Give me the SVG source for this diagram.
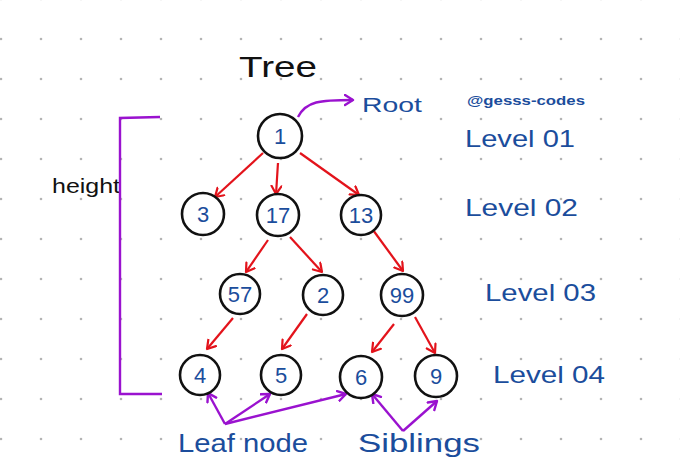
<svg xmlns="http://www.w3.org/2000/svg" width="680" height="475" viewBox="0 0 680 475">
<style>
.node circle{fill:#fff;stroke:#111;stroke-width:2.6}
.node text{font-family:"Liberation Sans",Arial,sans-serif;font-size:22px;fill:#1b4d9c;text-anchor:middle}
.red{stroke:#e3131b;stroke-width:2.2;fill:none;marker-end:url(#ahr)}
.pur{stroke:#9a12cf;stroke-width:2.4;fill:none}
.pa{marker-end:url(#ahp)}
.lbl{font-family:"Liberation Sans",Arial,sans-serif;fill:#1b4d9c}
.blk{font-family:"Liberation Sans",Arial,sans-serif;fill:#111}
</style>
<defs>
<pattern id="dots" patternUnits="userSpaceOnUse" x="-19" y="-21" width="40" height="40">
<circle cx="20" cy="20" r="1.3" fill="#b4b4b4"/>
</pattern>
<marker id="ahr" markerUnits="userSpaceOnUse" markerWidth="14" markerHeight="14" refX="9" refY="6" orient="auto">
<path d="M1,1 L9,6 L1,11" fill="none" stroke="#e3131b" stroke-width="2.2" stroke-linecap="round" stroke-linejoin="round"/>
</marker>
<marker id="ahp" markerUnits="userSpaceOnUse" markerWidth="14" markerHeight="14" refX="9" refY="6" orient="auto">
<path d="M1,1 L9,6 L1,11" fill="none" stroke="#9a12cf" stroke-width="2.4" stroke-linecap="round" stroke-linejoin="round"/>
</marker>
</defs>
<rect width="680" height="475" fill="#fff"/>
<rect width="680" height="475" fill="url(#dots)"/>

<text class="blk" x="239" y="77" font-size="30" textLength="78" lengthAdjust="spacingAndGlyphs">Tree</text>
<text class="lbl" x="467" y="105" font-size="13" font-weight="bold" textLength="118" lengthAdjust="spacingAndGlyphs">@gesss-codes</text>
<text class="lbl" x="362" y="112" font-size="21" textLength="60" lengthAdjust="spacingAndGlyphs">Root</text>
<text class="lbl" x="465" y="147" font-size="24" textLength="110" lengthAdjust="spacingAndGlyphs">Level 01</text>
<text class="lbl" x="465" y="216" font-size="24" textLength="113" lengthAdjust="spacingAndGlyphs">Level 02</text>
<text class="lbl" x="485" y="301" font-size="24" textLength="111" lengthAdjust="spacingAndGlyphs">Level 03</text>
<text class="lbl" x="493" y="383" font-size="24" textLength="112" lengthAdjust="spacingAndGlyphs">Level 04</text>
<text class="blk" x="52" y="193" font-size="20" textLength="68" lengthAdjust="spacingAndGlyphs">height</text>
<text class="lbl" x="178" y="452" font-size="26" textLength="130" lengthAdjust="spacingAndGlyphs">Leaf node</text>
<text class="lbl" x="358" y="452" font-size="26" textLength="122" lengthAdjust="spacingAndGlyphs">Siblings</text>

<g id="connectors">
<path class="pur" d="M160,117 L120,118 L120,394 L162,394"/>
<path class="pur pa" d="M298,117 C306,101 320,100 353,100"/>
<line class="red" x1="263" y1="153" x2="215" y2="197"/>
<line class="red" x1="278" y1="163" x2="276" y2="194"/>
<line class="red" x1="300" y1="153" x2="359" y2="195"/>
<line class="red" x1="268" y1="240" x2="246" y2="272"/>
<line class="red" x1="290" y1="237" x2="322" y2="272"/>
<line class="red" x1="373" y1="230" x2="403" y2="271"/>
<line class="red" x1="233" y1="318" x2="207" y2="349"/>
<line class="red" x1="307" y1="314" x2="282" y2="349"/>
<line class="red" x1="394" y1="324" x2="372" y2="352"/>
<line class="red" x1="415" y1="317" x2="435" y2="353"/>
<line class="pur pa" x1="225" y1="424" x2="208" y2="393"/>
<line class="pur pa" x1="225" y1="424" x2="270" y2="394"/>
<line class="pur pa" x1="225" y1="424" x2="346" y2="394"/>
<line class="pur pa" x1="403" y1="431" x2="372" y2="394"/>
<line class="pur pa" x1="403" y1="431" x2="437" y2="401"/>
</g>

<g id="n1" class="node"><circle cx="280" cy="136" r="22"/><text x="280" y="144">1</text></g>
<g id="n3" class="node"><circle cx="203" cy="214" r="21"/><text x="203" y="222">3</text></g>
<g id="n17" class="node"><circle cx="278" cy="215" r="21"/><text x="278" y="223">17</text></g>
<g id="n13" class="node"><circle cx="361" cy="215" r="20"/><text x="361" y="223">13</text></g>
<g id="n57" class="node"><circle cx="240" cy="294" r="20"/><text x="240" y="302">57</text></g>
<g id="n2" class="node"><circle cx="323" cy="295" r="20"/><text x="323" y="303">2</text></g>
<g id="n99" class="node"><circle cx="402" cy="295" r="21"/><text x="402" y="303">99</text></g>
<g id="n4" class="node"><circle cx="200" cy="375" r="20"/><text x="200" y="383">4</text></g>
<g id="n5" class="node"><circle cx="281" cy="375" r="20"/><text x="281" y="383">5</text></g>
<g id="n6" class="node"><circle cx="361" cy="377" r="21"/><text x="361" y="385">6</text></g>
<g id="n9" class="node"><circle cx="436" cy="376" r="21"/><text x="436" y="384">9</text></g>
</svg>
